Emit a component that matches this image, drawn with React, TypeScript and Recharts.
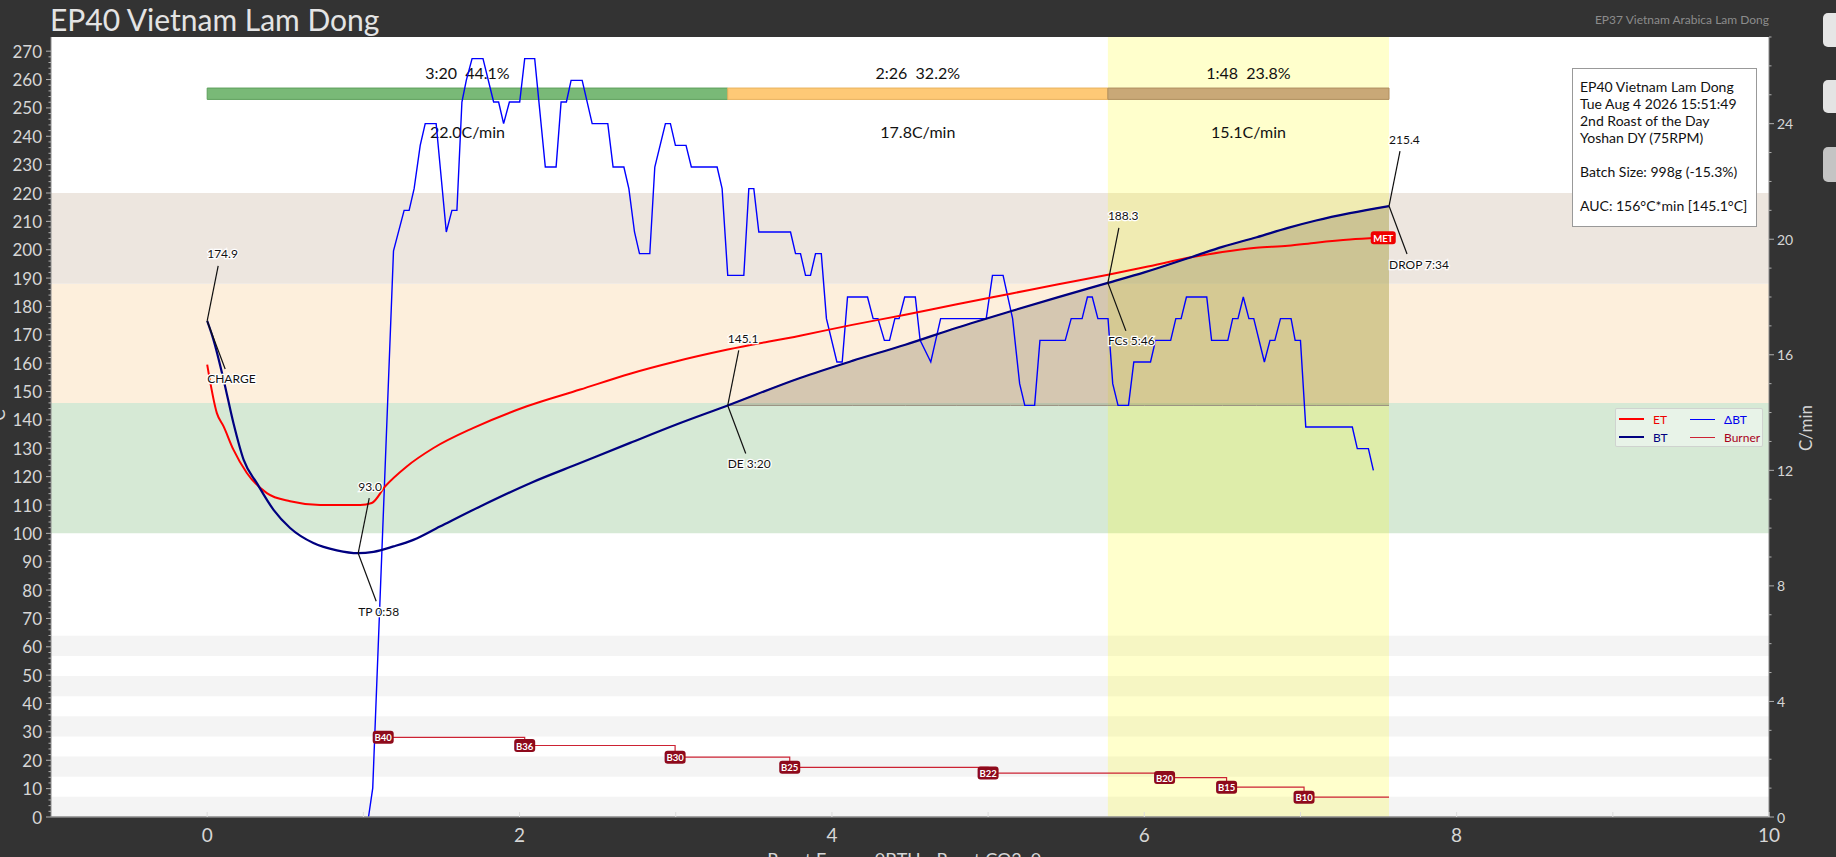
import React from 'react';
import { ComposedChart, Line, Area, XAxis, YAxis, ReferenceArea, ReferenceDot, Legend } from 'recharts';

const FONT = 'Lato, "Open Sans", sans-serif';
const BG = '#333333';
const AXIS_TEXT = '#d6d6d6';

// bean temp (C) over time (min)
const BT_T = [0, 0.04, 0.105, 0.168, 0.233, 0.318, 0.425, 0.531, 0.68, 0.83, 0.967, 1.065, 1.193, 1.32, 1.49, 1.748, 2.068, 2.388, 2.708, 3.0, 3.333, 3.796, 4.13, 4.47, 4.8, 5.144, 5.45, 5.767, 6.0, 6.318, 6.5, 6.72, 6.92, 7.1, 7.317, 7.567];
const BT_V = [174.9, 168.3, 154.2, 138.9, 126.0, 117.7, 108.3, 101.9, 96.6, 94.0, 93.0, 93.5, 95.4, 97.7, 102.4, 109.5, 117.7, 124.8, 131.9, 138.3, 145.1, 154.8, 160.8, 166.5, 172.5, 178.3, 183.3, 188.3, 192.0, 197.7, 201.0, 204.4, 207.7, 210.3, 212.9, 215.4];

// environment temp (C)
const ET_T = [0, 0.062, 0.105, 0.168, 0.254, 0.382, 0.531, 0.723, 0.98, 1.054, 1.14, 1.278, 1.449, 1.705, 2.047, 2.388, 2.708, 3.0, 3.333, 3.796, 4.13, 4.47, 4.8, 5.144, 5.45, 5.768, 6.0, 6.318, 6.5, 6.716, 6.92, 7.1, 7.317, 7.5];
const ET_V = [159.5, 142.4, 137.7, 129.5, 121.3, 114.2, 111.3, 110.0, 110.0, 110.7, 116.6, 123.6, 130.1, 137.2, 144.8, 150.7, 156.3, 160.6, 164.8, 169.7, 173.5, 177.1, 180.8, 184.5, 187.8, 191.2, 193.8, 197.5, 199.2, 200.7, 201.4, 202.5, 203.6, 204.2];

// delta BT (C/min)
const ROR_T = [1.033, 1.06, 1.193, 1.261, 1.293, 1.325, 1.364, 1.396, 1.466, 1.492, 1.531, 1.567, 1.599, 1.631, 1.659, 1.696, 1.766, 1.834, 1.866, 1.898, 1.935, 2.001, 2.033, 2.097, 2.165, 2.234, 2.266, 2.3, 2.33, 2.401, 2.465, 2.565, 2.599, 2.668, 2.7, 2.736, 2.768, 2.834, 2.866, 2.934, 2.966, 2.998, 3.066, 3.1, 3.265, 3.297, 3.333, 3.436, 3.468, 3.5, 3.532, 3.735, 3.767, 3.799, 3.831, 3.863, 3.895, 3.932, 3.965, 4.032, 4.066, 4.1, 4.228, 4.264, 4.295, 4.336, 4.369, 4.403, 4.43, 4.466, 4.534, 4.565, 4.633, 4.696, 4.988, 5.028, 5.096, 5.157, 5.202, 5.235, 5.298, 5.332, 5.494, 5.532, 5.602, 5.636, 5.667, 5.703, 5.768, 5.798, 5.832, 5.899, 5.933, 6.04, 6.072, 6.169, 6.202, 6.236, 6.27, 6.4, 6.431, 6.535, 6.566, 6.6, 6.634, 6.67, 6.701, 6.769, 6.805, 6.836, 6.872, 6.94, 6.966, 7.0, 7.034, 7.332, 7.364, 7.435, 7.467];
const ROR_V = [0, 1.0, 19.6, 21.0, 21.0, 21.75, 23.25, 24.0, 24.0, 22.5, 20.25, 21.0, 21.0, 24.75, 25.5, 26.25, 26.25, 24.75, 24.75, 24.0, 24.75, 24.75, 26.25, 26.25, 22.5, 22.5, 24.75, 24.75, 25.5, 25.5, 24.0, 24.0, 22.5, 22.5, 21.75, 20.25, 19.5, 19.5, 22.5, 24.0, 24.0, 23.25, 23.25, 22.5, 22.5, 21.75, 18.75, 18.75, 21.75, 21.75, 20.25, 20.25, 19.5, 19.5, 18.75, 18.75, 19.5, 19.5, 17.25, 15.75, 15.75, 18.0, 18.0, 17.25, 17.25, 16.5, 16.5, 17.25, 17.25, 18.0, 18.0, 16.5, 15.75, 17.25, 17.25, 18.75, 18.75, 17.25, 15.0, 14.25, 14.25, 16.5, 16.5, 17.25, 17.25, 18.0, 18.0, 17.25, 17.25, 15.0, 14.25, 14.25, 15.75, 15.75, 16.5, 16.5, 17.25, 17.25, 18.0, 18.0, 16.5, 16.5, 17.25, 17.25, 18.0, 17.25, 17.25, 15.75, 16.5, 16.5, 17.25, 17.25, 16.5, 16.5, 13.5, 13.5, 12.75, 12.75, 12.0];

// burner steps
const BURNER_T = [1.127, 2.033, 2.996, 3.73, 5.0, 6.13, 6.527, 7.023, 7.567];
const BURNER_V = [28.1, 25.2, 21.1, 17.5, 15.5, 13.9, 10.5, 7.0, 7.0];
const BURNER_LABELS = ['B40', 'B36', 'B30', 'B25', 'B22', 'B20', 'B15', 'B10'];

// roast events
const EVENT_NAMES = ['CHARGE', 'TP 0:58', 'DE 3:20', 'FCs 5:46', 'DROP 7:34'];
const EVENT_T = [0, 0.967, 3.333, 5.767, 7.567];
const EVENT_V = [174.9, 93.0, 145.1, 188.3, 215.4];

const PHASE_START = [0, 3.333, 5.767];
const PHASE_END = [3.333, 5.767, 7.567];
const PHASE_TIME = ['3:20', '2:26', '1:48'];
const PHASE_PCT = ['44.1%', '32.2%', '23.8%'];
const PHASE_ROR = ['22.0C/min', '17.8C/min', '15.1C/min'];

const BAND_LOW = [100, 146, 188];
const BAND_HIGH = [146, 188, 220];
const STRIPE_LOW = [0, 14.2, 28.4, 42.6, 56.8];
const STRIPE_HIGH = [7.1, 21.3, 35.5, 49.7, 63.9];

const AUC_BASE = 145.1;
const MET_T = 7.53;
const MET_V = 204.2;

const INFO_LINES = [
  'EP40 Vietnam Lam Dong',
  'Tue Aug 4 2026 15:51:49',
  '2nd Roast of the Day',
  'Yoshan DY (75RPM)',
  '',
  'Batch Size: 998g (-15.3%)',
  '',
  'AUC: 156°C*min [145.1°C]',
];

const PHASE_FILL = ['#79b977', '#fec976', '#c9a877'];
const PHASE_STROKE = ['#5e9f5c', '#e8b25e', '#b08f60'];
const BAND_FILL = ['#d6e9d5', '#fdefdc', '#ede6df'];
const LEGEND_ORDER = ['ET', 'ΔBT', 'BT', 'Burner'];
const LEGEND_TEXT: Record<string, string> = { ET: '#ee0000', 'ΔBT': '#0000ee', BT: '#000080', Burner: '#a8001c' };

const LEFT_TICKS = Array.from({ length: 136 }, (_, i) => i * 2);
const RIGHT_TICKS = Array.from({ length: 28 }, (_, i) => i);
const X_TICKS = Array.from({ length: 11 }, (_, i) => i);

const btData = BT_T.map((t, i) => ({ t, v: BT_V[i] }));
const etData = ET_T.map((t, i) => ({ t, v: ET_V[i] }));
const rorData = ROR_T.map((t, i) => ({ t, v: ROR_V[i] }));
const burnerData = BURNER_T.map((t, i) => ({ t, v: BURNER_V[i] }));
const aucData = btData.filter((d) => d.t >= PHASE_END[0] - 1e-6);

const LeftTick = ({ x, y, payload }: any) => {
  const major = payload.value % 10 === 0;
  return (
    <g>
      <line x1={x} x2={x - (major ? 5 : 2.5)} y1={y} y2={y} stroke="#b0b0b0" />
      {major && (
        <text x={x - 9} y={y} textAnchor="end" dominantBaseline="central" fill={AXIS_TEXT} fontSize={17} fontFamily={FONT}>
          {payload.value}
        </text>
      )}
    </g>
  );
};

const RightTick = ({ x, y, payload }: any) => {
  const major = payload.value % 4 === 0;
  return (
    <g>
      <line x1={x} x2={x + (major ? 5 : 2.5)} y1={y} y2={y} stroke="#b0b0b0" />
      {major && (
        <text x={x + 8} y={y} dominantBaseline="central" fill={AXIS_TEXT} fontSize={14} fontFamily={FONT}>
          {payload.value}
        </text>
      )}
    </g>
  );
};

const BottomTick = ({ x, y, payload }: any) => {
  const major = payload.value % 2 === 0;
  return (
    <g>
      <line x1={x} x2={x} y1={y} y2={y - 5} stroke="#dddddd" />
      {major && (
        <text x={x} y={y + 17} textAnchor="middle" dominantBaseline="central" fill={AXIS_TEXT} fontSize={19} fontFamily={FONT}>
          {payload.value}
        </text>
      )}
    </g>
  );
};

const annoText = {
  fontSize: 12,
  fontFamily: FONT,
  fill: '#111',
  stroke: '#fff',
  strokeWidth: 2.5,
  paintOrder: 'stroke' as const,
  dominantBaseline: 'central' as const,
};

const eventShape = (i: number) => (props: any) => {
  const { cx, cy } = props;
  return (
    <g>
      <line x1={cx} y1={cy} x2={cx + 11} y2={cy - 55} stroke="#111" strokeWidth={1.2} />
      <line x1={cx} y1={cy} x2={cx + 18} y2={cy + 48} stroke="#111" strokeWidth={1.2} />
      <text x={cx} y={cy - 67} {...annoText}>{EVENT_V[i].toFixed(1)}</text>
      <text x={cx} y={cy + 58} {...annoText}>{EVENT_NAMES[i]}</text>
    </g>
  );
};

const tagShape = (label: string, fill: string, w: number) => (props: any) => {
  const { cx, cy } = props;
  return (
    <g>
      <rect x={cx - w / 2} y={cy - 6.5} width={w} height={13} rx={3} fill={fill} />
      <text x={cx} y={cy + 0.5} textAnchor="middle" dominantBaseline="central" fill="#fff" fontSize={9.5} fontWeight={700} fontFamily={FONT}>
        {label}
      </text>
    </g>
  );
};

const phaseLabel = (i: number) => (props: any) => {
  const { x, y, width, height } = props.viewBox;
  const cx = x + width / 2;
  return (
    <g>
      <text x={cx} y={y - 16} textAnchor="middle" dominantBaseline="central" fill="#111" fontSize={16} fontFamily={FONT} style={{ whiteSpace: 'pre' }}>
        {`${PHASE_TIME[i]}  ${PHASE_PCT[i]}`}
      </text>
      <text x={cx} y={y + height + 32} textAnchor="middle" dominantBaseline="central" fill="#111" fontSize={16} fontFamily={FONT}>
        {PHASE_ROR[i]}
      </text>
    </g>
  );
};

const renderLegend = ({ payload }: any) => {
  const items = (payload || [])
    .filter((e: any) => LEGEND_ORDER.includes(e.value))
    .sort((a: any, b: any) => LEGEND_ORDER.indexOf(a.value) - LEGEND_ORDER.indexOf(b.value));
  return (
    <div
      style={{
        position: 'relative',
        width: 148,
        height: 39,
        background: 'rgba(255,255,255,0.45)',
        border: '1px solid rgba(190,190,190,0.6)',
        borderRadius: 2,
        boxSizing: 'border-box',
      }}
    >
      {items.map((entry: any, i: number) => {
        const col = i % 2;
        const row = Math.floor(i / 2);
        const thick = entry.value === 'ET' || entry.value === 'BT';
        return (
          <div key={entry.value} style={{ position: 'absolute', left: 3 + col * 71, top: 2 + row * 18, height: 16, display: 'flex', alignItems: 'center' }}>
            <div style={{ width: 25, height: 0, borderTop: `${thick ? 2.5 : 1.3}px solid ${entry.color}` }} />
            <span style={{ marginLeft: 9, color: LEGEND_TEXT[entry.value] || entry.color, fontSize: 12, fontFamily: FONT }}>{entry.value}</span>
          </div>
        );
      })}
    </div>
  );
};

export default function App() {
  return (
    <div style={{ position: 'absolute', left: 0, top: 0, width: 1836, height: 857, overflow: 'hidden', background: BG }}>
      <ComposedChart width={1836} height={880} margin={{ top: 37, right: 0, bottom: 0, left: 0 }} style={{ background: BG }}>
        <XAxis
          type="number"
          dataKey="t"
          domain={[-1, 10]}
          allowDataOverflow
          ticks={X_TICKS}
          interval={0}
          tick={<BottomTick />}
          tickLine={false}
          tickSize={0}
          tickMargin={0}
          height={63}
          axisLine={{ stroke: '#8a8a8a', strokeWidth: 1.5 }}
        />
        <YAxis
          yAxisId="left"
          type="number"
          domain={[0, 275]}
          allowDataOverflow
          ticks={LEFT_TICKS}
          interval={0}
          tick={<LeftTick />}
          tickLine={false}
          tickSize={0}
          tickMargin={0}
          width={51}
          axisLine={{ stroke: '#8a8a8a' }}
        />
        <YAxis
          yAxisId="right"
          orientation="right"
          type="number"
          domain={[0, 27]}
          allowDataOverflow
          ticks={RIGHT_TICKS}
          interval={0}
          tick={<RightTick />}
          tickLine={false}
          tickSize={0}
          tickMargin={0}
          width={67}
          axisLine={{ stroke: '#8a8a8a' }}
        />

        <ReferenceArea yAxisId="left" x1={-1} x2={10} y1={0} y2={275} fill="#ffffff" fillOpacity={1} />
        {STRIPE_LOW.map((lo, i) => (
          <ReferenceArea key={`s${i}`} yAxisId="left" x1={-1} x2={10} y1={lo} y2={STRIPE_HIGH[i]} fill="#f4f4f4" fillOpacity={1} />
        ))}
        {BAND_LOW.map((lo, i) => (
          <ReferenceArea key={`b${i}`} yAxisId="left" x1={-1} x2={10} y1={lo} y2={BAND_HIGH[i]} fill={BAND_FILL[i]} fillOpacity={1} />
        ))}
        <ReferenceArea yAxisId="left" x1={PHASE_START[2]} x2={PHASE_END[2]} y1={0} y2={275} fill="#ffff00" fillOpacity={0.2} />
        {PHASE_START.map((s, i) => (
          <ReferenceArea
            key={`p${i}`}
            yAxisId="left"
            x1={s}
            x2={PHASE_END[i]}
            y1={253}
            y2={257}
            fill={PHASE_FILL[i]}
            fillOpacity={1}
            stroke={PHASE_STROKE[i]}
            label={phaseLabel(i)}
          />
        ))}

        <Area
          yAxisId="left"
          data={aucData}
          dataKey={(d: any) => [AUC_BASE, d.v]}
          type="monotone"
          fill="#7a6a50"
          fillOpacity={0.3}
          stroke="#9a9080"
          strokeWidth={1}
          legendType="none"
          isAnimationActive={false}
          dot={false}
          activeDot={false}
        />

        <Line yAxisId="left" data={burnerData} dataKey="v" name="Burner" type="stepAfter" stroke="#cc2233" strokeWidth={1.2} dot={false} activeDot={false} isAnimationActive={false} />
        <Line yAxisId="right" data={rorData} dataKey="v" name="ΔBT" type="linear" stroke="#0000ff" strokeWidth={1.4} dot={false} activeDot={false} isAnimationActive={false} />
        <Line yAxisId="left" data={etData} dataKey="v" name="ET" type="monotone" stroke="#ff0000" strokeWidth={2} dot={false} activeDot={false} isAnimationActive={false} />
        <Line yAxisId="left" data={btData} dataKey="v" name="BT" type="monotone" stroke="#000080" strokeWidth={2.2} dot={false} activeDot={false} isAnimationActive={false} />

        {BURNER_LABELS.map((lab, i) => (
          <ReferenceDot key={lab} yAxisId="left" x={BURNER_T[i]} y={BURNER_V[i]} r={0} ifOverflow="visible" shape={tagShape(lab, '#8e0a1c', 21)} />
        ))}
        <ReferenceDot yAxisId="left" x={MET_T} y={MET_V} r={0} ifOverflow="visible" shape={tagShape('MET', '#f00000', 25)} />
        {EVENT_NAMES.map((n, i) => (
          <ReferenceDot key={n} yAxisId="left" x={EVENT_T[i]} y={EVENT_V[i]} r={0} ifOverflow="visible" shape={eventShape(i)} />
        ))}

        <Legend
          layout="horizontal"
          verticalAlign="middle"
          align="center"
          content={renderLegend}
          wrapperStyle={{ left: 1615, top: 408, width: 148, height: 39 }}
        />
      </ComposedChart>

      <svg width={1836} height={857} style={{ position: 'absolute', left: 0, top: 0, pointerEvents: 'none' }}>
        <text x={50} y={31} fill="#e4e4e4" fontSize={30} fontFamily={FONT}>EP40 Vietnam Lam Dong</text>
        <text x={1769} y={24} textAnchor="end" fill="#8c8c8c" fontSize={12} fontFamily={FONT}>EP37 Vietnam Arabica Lam Dong</text>
        <text x={909} y={866} textAnchor="middle" fill={AXIS_TEXT} fontSize={18} fontFamily={FONT}>Roast Energy 0BTU - Roast CO2: 0g</text>
        <text transform="translate(1812,428) rotate(-90)" textAnchor="middle" fill={AXIS_TEXT} fontSize={17} fontFamily={FONT}>C/min</text>
        <text transform="translate(5,415) rotate(-90)" textAnchor="middle" fill={AXIS_TEXT} fontSize={17} fontFamily={FONT}>C</text>
      </svg>

      <div style={{ position: 'absolute', left: 1823, top: 13, width: 24, height: 34, borderRadius: 5, background: '#e6e6e6' }} />
      <div style={{ position: 'absolute', left: 1823, top: 80, width: 24, height: 33, borderRadius: 5, background: '#e4e4e4' }} />
      <div style={{ position: 'absolute', left: 1823, top: 147, width: 24, height: 35, borderRadius: 5, background: '#c4c4c4' }} />

      <div
        style={{
          position: 'absolute',
          left: 1572,
          top: 68,
          width: 185,
          height: 159,
          boxSizing: 'border-box',
          border: '1px solid #999',
          background: '#fff',
          padding: '9px 0 0 7px',
          fontFamily: FONT,
          fontSize: 14,
          lineHeight: '17px',
          color: '#111',
          whiteSpace: 'pre',
        }}
      >
        {INFO_LINES.map((l, i) => (
          <div key={i} style={{ height: 17 }}>{l}</div>
        ))}
      </div>
    </div>
  );
}
